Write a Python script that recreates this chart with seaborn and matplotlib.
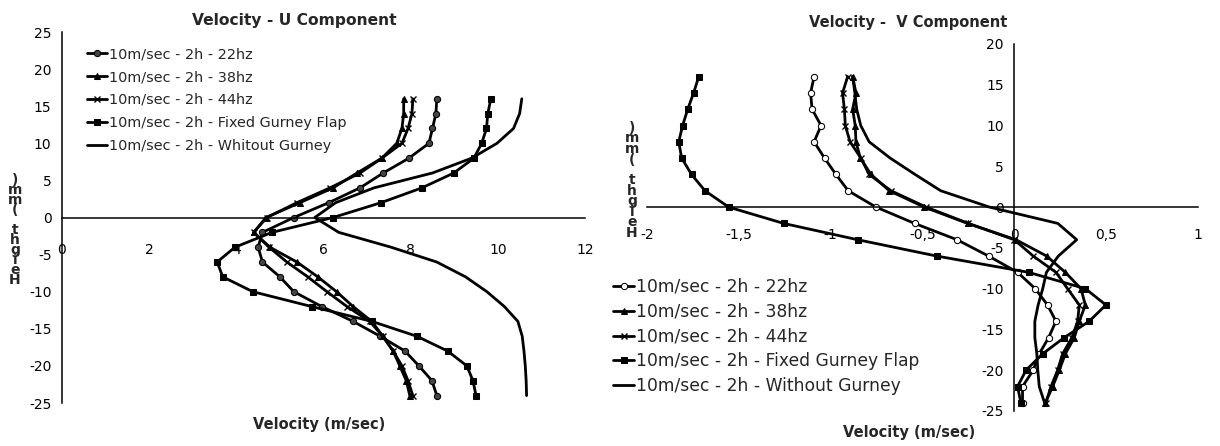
import matplotlib
matplotlib.use("Agg")
import matplotlib.pyplot as plt
import seaborn as sns
import pandas as pd

# heights (mm) where the profiles were measured
heights = [16, 14, 12, 10, 8, 6, 4, 2, 0, -2, -4, -6, -8, -10, -12, -14, -16, -18, -20, -22, -24]

# U component (m/sec)
u_22hz = [8.6, 8.58, 8.5, 8.42, 7.96, 7.37, 6.84, 6.12, 5.32, 4.6, 4.5, 4.6, 5.0, 5.32, 5.96, 6.68, 7.3, 7.87, 8.19, 8.49, 8.6]
u_38hz = [7.84, 7.84, 7.8, 7.68, 7.34, 6.77, 6.22, 5.46, 4.68, 4.4, 4.77, 5.39, 5.87, 6.3, 6.68, 7.11, 7.36, 7.6, 7.75, 7.9, 7.98]
u_44hz = [8.05, 8.03, 7.94, 7.8, 7.34, 6.84, 6.15, 5.39, 4.7, 4.4, 4.75, 5.16, 5.64, 6.08, 6.54, 7.06, 7.36, 7.6, 7.8, 7.94, 8.05]
u_fixed = [9.84, 9.77, 9.74, 9.63, 9.45, 8.99, 8.26, 7.32, 6.22, 4.82, 3.97, 3.56, 3.69, 4.38, 5.73, 7.11, 8.14, 8.85, 9.29, 9.43, 9.5]
u_without = [10.55, 10.5, 10.36, 9.98, 9.4, 8.5, 7.16, 6.28, 5.8, 6.35, 7.55, 8.6, 9.26, 9.75, 10.15, 10.46, 10.56, 10.6, 10.63, 10.65, 10.66]

# V component (m/sec)
v_22hz = [-1.09, -1.109, -1.101, -1.052, -1.09, -1.033, -0.971, -0.904, -0.753, -0.543, -0.312, -0.14, 0.018, 0.114, 0.181, 0.227, 0.187, 0.136, 0.103, 0.045, 0.045]
v_38hz = [-0.88, -0.862, -0.88, -0.866, -0.862, -0.838, -0.78, -0.68, -0.49, -0.254, 0.009, 0.176, 0.278, 0.363, 0.387, 0.354, 0.327, 0.278, 0.245, 0.209, 0.169]
v_44hz = [-0.907, -0.935, -0.925, -0.92, -0.894, -0.835, -0.79, -0.671, -0.48, -0.25, 0.0, 0.103, 0.227, 0.29, 0.354, 0.345, 0.314, 0.263, 0.236, 0.2, 0.172]
v_fixed = [-1.718, -1.746, -1.778, -1.806, -1.827, -1.811, -1.757, -1.684, -1.555, -1.256, -0.853, -0.423, 0.078, 0.387, 0.499, 0.408, 0.272, 0.154, 0.064, 0.018, 0.036]
v_without = [-0.88, -0.868, -0.858, -0.836, -0.79, -0.675, -0.54, -0.4, -0.135, 0.237, 0.34, 0.24, 0.175, 0.155, 0.13, 0.112, 0.112, 0.123, 0.128, 0.136, 0.165]

labels_u = ["10m/sec - 2h - 22hz", "10m/sec - 2h - 38hz", "10m/sec - 2h - 44hz",
            "10m/sec - 2h - Fixed Gurney Flap", "10m/sec - 2h - Whitout Gurney"]
labels_v = ["10m/sec - 2h - 22hz", "10m/sec - 2h - 38hz", "10m/sec - 2h - 44hz",
            "10m/sec - 2h - Fixed Gurney Flap", "10m/sec - 2h - Without Gurney"]

u_ticks = [0, 2, 4, 6, 8, 10, 12]
v_ticks = [-2, -1.5, -1, -0.5, 0, 0.5, 1]
v_tick_labels = ["-2", "-1,5", "-1", "-0,5", "0", "0,5", "1"]

sns.set_style("white")
plt.rcParams['font.family'] = ['DejaVu Sans']
plt.rcParams['axes.unicode_minus'] = False

styles = [
    dict(marker='o', markersize=4.5, markerfacecolor='#444444'),
    dict(marker='^', markersize=5),
    dict(marker='x', markersize=4, markeredgewidth=1),
    dict(marker='s', markersize=5),
    dict(marker=None),
]


def draw_profiles(ax, series, labels, hollow_circles=False):
    for vals, lab, st in zip(series, labels, styles):
        st = dict(st)
        if hollow_circles and st.get('marker') == 'o':
            st['markerfacecolor'] = 'white'
        sns.lineplot(x=vals, y=heights, sort=False, estimator=None, ax=ax,
                     color='black', linewidth=2, label=lab,
                     markeredgecolor='black', **st)


def style_axes(ax):
    for side in ['top', 'right']:
        ax.spines[side].set_visible(False)
    for side in ['left', 'bottom']:
        ax.spines[side].set_color('black')
        ax.spines[side].set_linewidth(1.1)
        ax.spines[side].set_position(('data', 0))
    ax.tick_params(axis='both', direction='out', length=4, width=1.1, colors='black', labelsize=10)


def stacked_label(x, y_bottom, step):
    for i, ch in enumerate("Height (mm)"):
        fig.text(x, y_bottom + i * step, ch, ha='center', va='center',
                 fontsize=10, fontweight='bold')


fig = plt.figure(figsize=(12.2, 4.46), dpi=100)

# U component
ax1 = fig.add_axes([0.0508, 0.0964, 0.4287, 0.8318])
draw_profiles(ax1, [u_22hz, u_38hz, u_44hz, u_fixed, u_without], labels_u)
ax1.set_xlim(0, 12)
ax1.set_ylim(-25, 25)
style_axes(ax1)
ax1.set_xticks(u_ticks)
ax1.set_yticks(range(-25, 26, 5))
ax1.tick_params(axis='x', pad=14)
ax1.set_xlabel('')
ax1.set_ylabel('')
ax1.legend(loc='center left', bbox_to_anchor=(0.0713, 0.7758), bbox_transform=fig.transFigure,
           frameon=False, fontsize=10.4, handlelength=1.4, handletextpad=0.1,
           labelspacing=0.62, borderpad=0, borderaxespad=0)
fig.text(294 / 1220, 1 - 20 / 446, 'Velocity - U Component', ha='center', va='center',
         fontsize=11.2, fontweight='bold')
fig.text(319 / 1220, 1 - 425 / 446, 'Velocity (m/sec)', ha='center', va='center',
         fontsize=10.5, fontweight='bold')

# V component
ax2 = fig.add_axes([0.5303, 0.0785, 0.4516, 0.8229])
draw_profiles(ax2, [v_22hz, v_38hz, v_44hz, v_fixed, v_without], labels_v, hollow_circles=True)
ax2.set_xlim(-2, 1)
ax2.set_ylim(-25, 20)
style_axes(ax2)
ax2.set_xticks(v_ticks)
ax2.set_xticklabels(v_tick_labels)
ax2.set_yticks(range(-25, 21, 5))
ax2.tick_params(axis='x', pad=11)
ax2.set_xlabel('')
ax2.set_ylabel('')
ax2.legend(loc='center left', bbox_to_anchor=(0.5025, 0.2455), bbox_transform=fig.transFigure,
           frameon=False, fontsize=12.3, handlelength=1.25, handletextpad=0.1,
           labelspacing=0.4, borderpad=0, borderaxespad=0)
fig.text(908 / 1220, 1 - 22 / 446, 'Velocity -  V Component', ha='center', va='center',
         fontsize=10.5, fontweight='bold')
fig.text(909 / 1220, 1 - 432 / 446, 'Velocity (m/sec)', ha='center', va='center',
         fontsize=10.5, fontweight='bold')

# stacked "Height (mm)" labels, letters upright
stacked_label(15 / 1220, 1 - 280 / 446, 10 / 446)
stacked_label(632 / 1220, 1 - 233 / 446, 10.5 / 446)

fig.savefig('out.png', dpi=100)
